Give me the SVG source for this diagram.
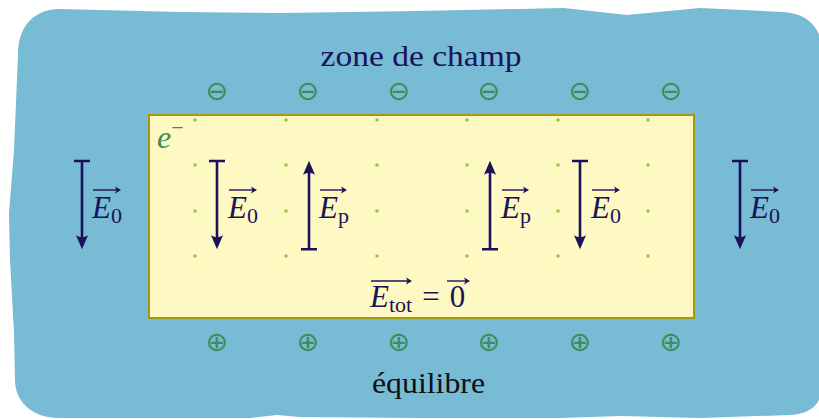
<svg xmlns="http://www.w3.org/2000/svg" width="819" height="419" viewBox="0 0 819 419">
<style>
.navy{fill:#1c1259}
.t{font-family:"Liberation Serif","Times New Roman",serif}
.it{font-style:italic}
.stem{stroke:#1c1259;stroke-width:2.6;fill:none}
.bar{stroke:#1c1259;stroke-width:2.4;fill:none}
.vec{stroke:#1c1259;stroke-width:1.4;fill:none}
.dot{fill:#8fcd3f}
.chg{font-family:"DejaVu Sans",sans-serif;font-size:27px;fill:#3f8c55;text-anchor:middle}
</style>
<defs>
<marker id="ah" viewBox="-15 -7 16 14" refX="-10" refY="0" markerWidth="16" markerHeight="14" markerUnits="userSpaceOnUse" orient="auto">
<path d="M0,0 L-14,-6 Q-10,0 -14,6 Z" fill="#1c1259"/>
</marker>
<path id="vh" d="M0,0 L-6,-3.5 L-4.5,0 L-6,3.5 Z" fill="#1c1259"/>
</defs>

<g id="background">
<path d="M18,55 C18,25 35,9 60,9 L180,12 L282,13 L418,11 L564,8 L627,15 L700,8 L783,12 C805,13 819,25 822,45 L822,390 C820,405 810,414 790,415 L700,418 L621,416 L560,418 L420,418 L300,417 L277,415 L250,418 L60,418 C30,418 15,400 15,380 L14,333 L10,260 L9,213 L14,150 Z" fill="#77bbd5"/>
</g>

<g id="title">
<text class="t navy" x="421" y="66" font-size="30" text-anchor="middle" textLength="201" lengthAdjust="spacingAndGlyphs">zone de champ</text>
</g>

<g id="negative-charges">
<text class="chg" x="217" y="99.5">⊖</text>
<text class="chg" x="308" y="99.5">⊖</text>
<text class="chg" x="399" y="99.5">⊖</text>
<text class="chg" x="489" y="99.5">⊖</text>
<text class="chg" x="580" y="99.5">⊖</text>
<text class="chg" x="671" y="99.5">⊖</text>
</g>

<g id="conductor">
<rect x="149" y="115" width="545" height="203" fill="#fef9c2" stroke="#a39a12" stroke-width="2"/>
<g id="dots">
<circle class="dot" cx="195" cy="120" r="1.8"/><circle class="dot" cx="286" cy="120" r="1.8"/><circle class="dot" cx="377" cy="120" r="1.8"/><circle class="dot" cx="467" cy="120" r="1.8"/><circle class="dot" cx="558" cy="120" r="1.8"/><circle class="dot" cx="648" cy="120" r="1.8"/>
<circle class="dot" cx="195" cy="165" r="1.8"/><circle class="dot" cx="286" cy="165" r="1.8"/><circle class="dot" cx="377" cy="165" r="1.8"/><circle class="dot" cx="467" cy="165" r="1.8"/><circle class="dot" cx="558" cy="165" r="1.8"/><circle class="dot" cx="648" cy="165" r="1.8"/>
<circle class="dot" cx="195" cy="211" r="1.8"/><circle class="dot" cx="286" cy="211" r="1.8"/><circle class="dot" cx="377" cy="211" r="1.8"/><circle class="dot" cx="467" cy="211" r="1.8"/><circle class="dot" cx="558" cy="211" r="1.8"/><circle class="dot" cx="648" cy="211" r="1.8"/>
<circle class="dot" cx="195" cy="256" r="1.8"/><circle class="dot" cx="286" cy="256" r="1.8"/><circle class="dot" cx="377" cy="256" r="1.8"/><circle class="dot" cx="467" cy="256" r="1.8"/><circle class="dot" cx="558" cy="256" r="1.8"/><circle class="dot" cx="648" cy="256" r="1.8"/>
</g>
<text class="t" x="157" y="148" font-size="32" fill="#3f8c55"><tspan class="it">e</tspan><tspan font-size="22" dy="-13">−</tspan></text>
</g>

<g id="positive-charges">
<text class="chg" x="217" y="350.5">⊕</text>
<text class="chg" x="308" y="350.5">⊕</text>
<text class="chg" x="399" y="350.5">⊕</text>
<text class="chg" x="489" y="350.5">⊕</text>
<text class="chg" x="580" y="350.5">⊕</text>
<text class="chg" x="671" y="350.5">⊕</text>
</g>

<g id="connectors">
<path class="bar" d="M74,161 H90 M209,161 H225 M301,249.3 H317 M482,249.3 H498 M572,161 H588 M732,161 H748"/>
<path class="stem" d="M82,161 V239.3" marker-end="url(#ah)"/>
<path class="stem" d="M217,161 V239.3" marker-end="url(#ah)"/>
<path class="stem" d="M309,249.3 V170.7" marker-end="url(#ah)"/>
<path class="stem" d="M490,249.3 V170.7" marker-end="url(#ah)"/>
<path class="stem" d="M580,161 V239.3" marker-end="url(#ah)"/>
<path class="stem" d="M740,161 V239.3" marker-end="url(#ah)"/>
</g>

<g id="labels">
<g id="lbl-E0-left"><path class="vec" d="M93,190 H119"/><use href="#vh" x="121" y="190"/><text class="t navy" x="92" y="218" font-size="31"><tspan class="it">E</tspan><tspan font-size="22" dy="4.5">0</tspan></text></g>
<g id="lbl-E0-1"><path class="vec" d="M229,190 H255"/><use href="#vh" x="257" y="190"/><text class="t navy" x="228" y="218" font-size="31"><tspan class="it">E</tspan><tspan font-size="22" dy="4.5">0</tspan></text></g>
<g id="lbl-Ep-1"><path class="vec" d="M320,190 H345"/><use href="#vh" x="347" y="190"/><text class="t navy" x="319" y="218" font-size="31"><tspan class="it">E</tspan><tspan font-size="22" dy="4.5">p</tspan></text></g>
<g id="lbl-Ep-2"><path class="vec" d="M502,190 H527"/><use href="#vh" x="529" y="190"/><text class="t navy" x="501" y="218" font-size="31"><tspan class="it">E</tspan><tspan font-size="22" dy="4.5">p</tspan></text></g>
<g id="lbl-E0-2"><path class="vec" d="M592,190 H618"/><use href="#vh" x="620" y="190"/><text class="t navy" x="591" y="218" font-size="31"><tspan class="it">E</tspan><tspan font-size="22" dy="4.5">0</tspan></text></g>
<g id="lbl-E0-right"><path class="vec" d="M751,190 H777"/><use href="#vh" x="779" y="190"/><text class="t navy" x="750" y="218" font-size="31"><tspan class="it">E</tspan><tspan font-size="22" dy="4.5">0</tspan></text></g>
<g id="lbl-Etot">
<path class="vec" d="M371,281 H410"/><use href="#vh" x="412" y="281"/>
<path class="vec" d="M447,281 H468"/><use href="#vh" x="470" y="281"/>
<text class="t navy" x="370" y="307" font-size="31"><tspan class="it">E</tspan><tspan font-size="22" dy="5">tot</tspan></text>
<text class="t navy" x="431" y="307" font-size="31" text-anchor="middle">=</text>
<text class="t navy" x="457.5" y="307" font-size="31" text-anchor="middle">0</text>
</g>
</g>

<g id="footer">
<text class="t" x="428.5" y="393" font-size="30" fill="#111" text-anchor="middle" textLength="113" lengthAdjust="spacingAndGlyphs">équilibre</text>
</g>
</svg>
